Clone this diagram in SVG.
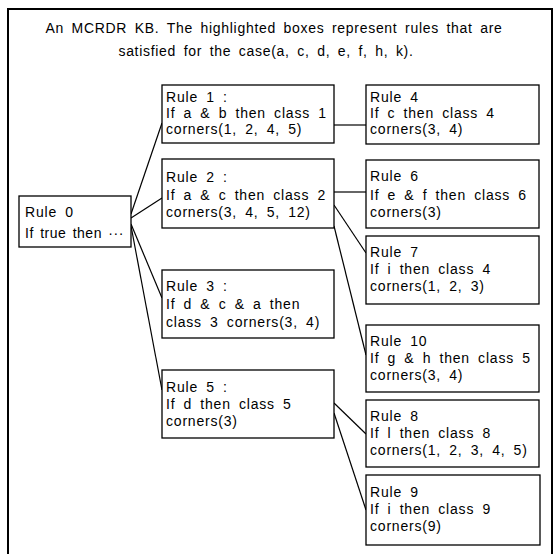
<svg xmlns="http://www.w3.org/2000/svg" width="556" height="554" viewBox="0 0 556 554">
<style>
.frame{fill:none;stroke:#000;stroke-width:2}
.box{fill:#fff;stroke:#000;stroke-width:1.3}
.t{font-family:"Liberation Sans",Arial,sans-serif;font-size:14px;letter-spacing:0.8px;word-spacing:3.5px;fill:#000}
.title{font-family:"Liberation Sans",Arial,sans-serif;font-size:14px;letter-spacing:0.7px;word-spacing:3px;fill:#000;text-anchor:middle}
#connectors line{stroke:#000;stroke-width:1.2}
</style>
<rect x="0" y="0" width="556" height="554" fill="#fff"/>
<rect class="frame" x="8" y="9" width="544" height="560"/>
<text class="title" x="274" y="33">An MCRDR KB. The highlighted boxes represent rules that are</text>
<text class="title" x="266" y="56">satisfied for the case(a, c, d, e, f, h, k).</text>
<g id="connectors">
<line x1="131" y1="214" x2="162" y2="123"/>
<line x1="131" y1="218" x2="162" y2="198"/>
<line x1="131" y1="224" x2="162" y2="298"/>
<line x1="131" y1="226" x2="162" y2="390"/>
<line x1="334" y1="125" x2="366" y2="125"/>
<line x1="334" y1="192" x2="366" y2="192"/>
<line x1="334" y1="205" x2="366" y2="253"/>
<line x1="334" y1="226" x2="366" y2="355"/>
<line x1="334" y1="403" x2="366" y2="434"/>
<line x1="334" y1="413" x2="366" y2="510"/>
</g>
<g id="rule0"><rect class="box" x="19" y="196" width="112" height="51"/>
<text class="t" x="25" y="217">Rule 0</text><text class="t" x="25" y="238" style="letter-spacing:0.5px;word-spacing:2px">If true then ···</text></g>
<g id="rule1"><rect class="box" x="162" y="85" width="172" height="58"/>
<text class="t" x="166" y="102">Rule 1 :</text><text class="t" x="166" y="118">If a &amp; b then class 1</text><text class="t" x="166" y="134">corners(1, 2, 4, 5)</text></g>
<g id="rule2"><rect class="box" x="162" y="159" width="172" height="69"/>
<text class="t" x="166" y="182">Rule 2 :</text><text class="t" x="166" y="200">If a &amp; c then class 2</text><text class="t" x="166" y="217">corners(3, 4, 5, 12)</text></g>
<g id="rule3"><rect class="box" x="162" y="270" width="172" height="68"/>
<text class="t" x="166" y="291">Rule 3 :</text><text class="t" x="166" y="309">If d &amp; c &amp; a then</text><text class="t" x="166" y="327">class 3 corners(3, 4)</text></g>
<g id="rule5"><rect class="box" x="162" y="370" width="172" height="68"/>
<text class="t" x="166" y="392">Rule 5 :</text><text class="t" x="166" y="409">If d then class 5</text><text class="t" x="166" y="426">corners(3)</text></g>
<g id="rule4"><rect class="box" x="366" y="85" width="173" height="59"/>
<text class="t" x="370" y="102">Rule 4</text><text class="t" x="370" y="118">If c then class 4</text><text class="t" x="370" y="134">corners(3, 4)</text></g>
<g id="rule6"><rect class="box" x="366" y="160" width="173" height="68"/>
<text class="t" x="370" y="181">Rule 6</text><text class="t" x="370" y="200">If e &amp; f then class 6</text><text class="t" x="370" y="217">corners(3)</text></g>
<g id="rule7"><rect class="box" x="366" y="236" width="173" height="68"/>
<text class="t" x="370" y="257">Rule 7</text><text class="t" x="370" y="274">If i then class 4</text><text class="t" x="370" y="291">corners(1, 2, 3)</text></g>
<g id="rule10"><rect class="box" x="366" y="325" width="173" height="67"/>
<text class="t" x="370" y="346">Rule 10</text><text class="t" x="370" y="363">If g &amp; h then class 5</text><text class="t" x="370" y="380">corners(3, 4)</text></g>
<g id="rule8"><rect class="box" x="366" y="400" width="173" height="67"/>
<text class="t" x="370" y="421">Rule 8</text><text class="t" x="370" y="438">If l then class 8</text><text class="t" x="370" y="455">corners(1, 2, 3, 4, 5)</text></g>
<g id="rule9"><rect class="box" x="366" y="475" width="174" height="70"/>
<text class="t" x="370" y="497">Rule 9</text><text class="t" x="370" y="514">If i then class 9</text><text class="t" x="370" y="531">corners(9)</text></g>
</svg>
